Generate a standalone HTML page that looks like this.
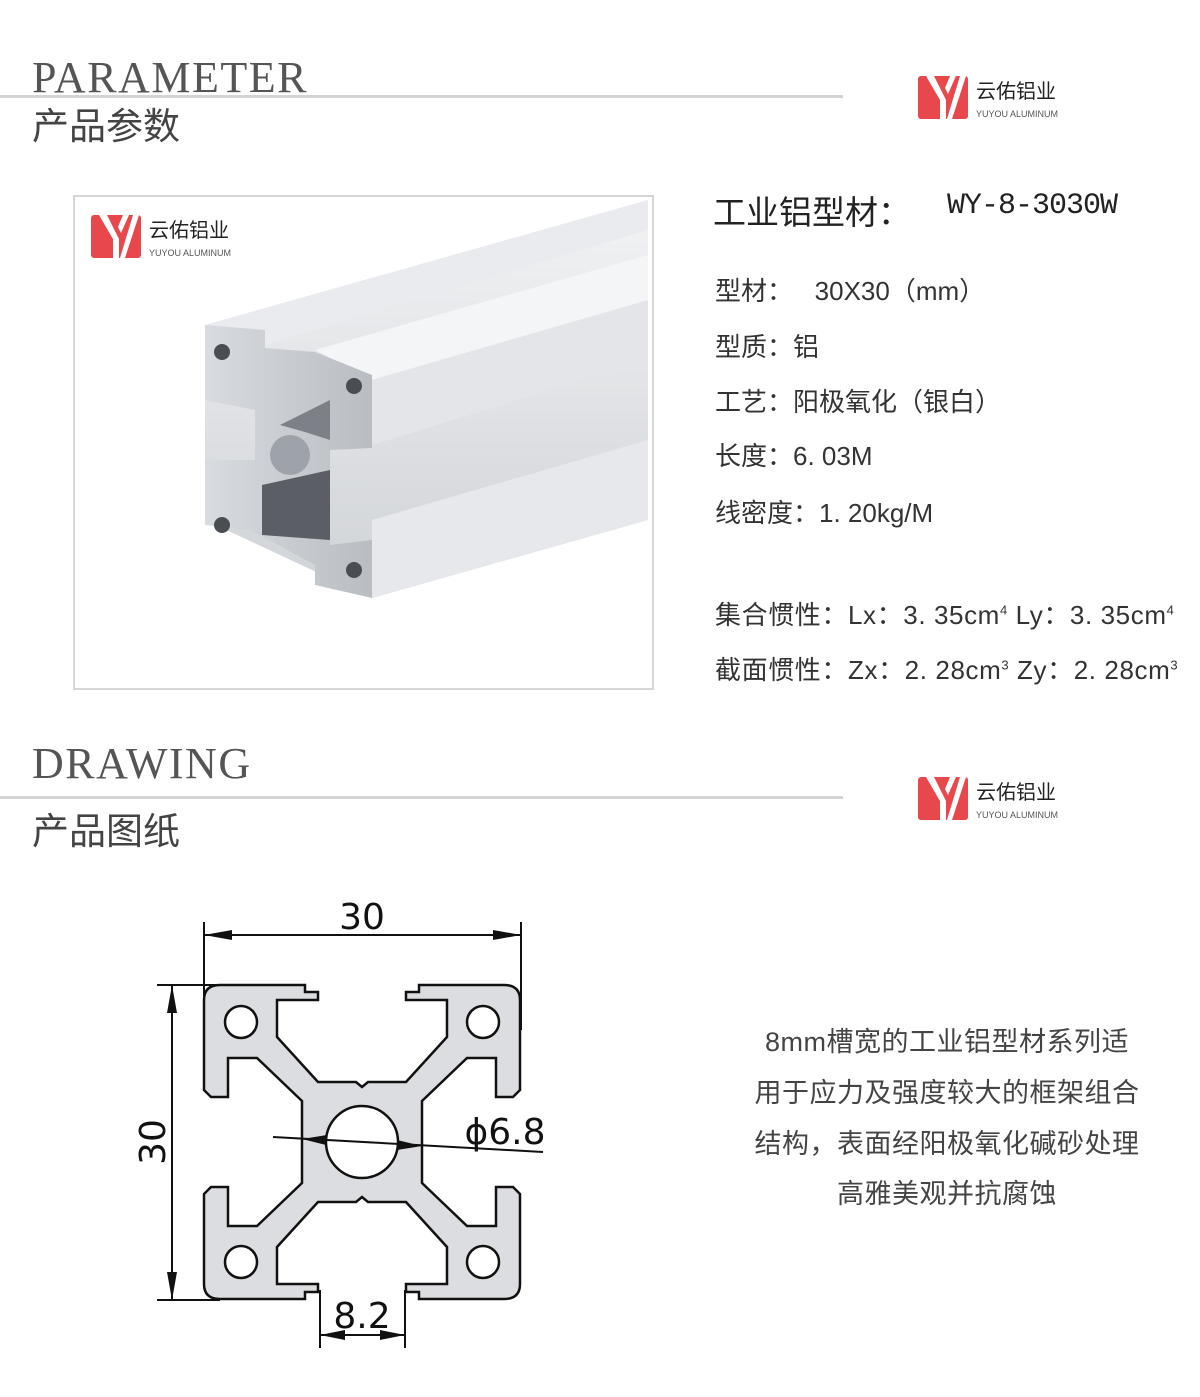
<!DOCTYPE html>
<html><head><meta charset="utf-8"><style>
body{margin:0;width:1200px;height:1397px;background:#fff;position:relative;overflow:hidden;font-family:"Liberation Sans","Noto Sans CJK SC",sans-serif;color:#333}
.a{position:absolute;white-space:nowrap}
.en{font-family:"Liberation Serif",serif;font-size:44px;color:#555;letter-spacing:1.5px}
.cn{font-size:37px;color:#444}
.line{position:absolute;left:0;width:843px;height:3px;background:#d4d4d4}
.spec{font-size:26px;color:#333;left:715px}
.p{font-size:27px;color:#444;width:420px;text-align:center;left:737px;letter-spacing:0.5px}
</style></head><body>
<div class="a en" style="left:32px;top:52px">PARAMETER</div>
<div class="line" style="top:95px"></div>
<div class="a cn" style="left:32px;top:96px">产品参数</div>

<div class="a en" style="left:32px;top:738px">DRAWING</div>
<div class="line" style="top:796px"></div>
<div class="a cn" style="left:32px;top:801px">产品图纸</div>

<!-- logos -->
<svg class="a" style="left:916px;top:74px" width="160" height="48">
<rect x="2" y="2" width="50" height="43" rx="3" fill="#e8474b"/>
<path d="M10 2 L24 26 L24 45 L30 45 L30 26 L18 2Z M34 2 L40 2 L32 20 L29 14Z M44 2 L50 2 L36 45 L31 45Z" fill="#fff"/>
<text x="60" y="24" font-size="20" fill="#222" font-family="Noto Sans CJK SC,sans-serif">云佑铝业</text>
<text x="60" y="43" font-size="9" fill="#555" font-family="Liberation Sans,sans-serif">YUYOU ALUMINUM</text>
</svg>
<svg class="a" style="left:916px;top:775px" width="160" height="48">
<rect x="2" y="2" width="50" height="43" rx="3" fill="#e8474b"/>
<path d="M10 2 L24 26 L24 45 L30 45 L30 26 L18 2Z M34 2 L40 2 L32 20 L29 14Z M44 2 L50 2 L36 45 L31 45Z" fill="#fff"/>
<text x="60" y="24" font-size="20" fill="#222" font-family="Noto Sans CJK SC,sans-serif">云佑铝业</text>
<text x="60" y="43" font-size="9" fill="#555" font-family="Liberation Sans,sans-serif">YUYOU ALUMINUM</text>
</svg>

<!-- photo box -->
<div class="a" style="left:73px;top:195px;width:577px;height:491px;border:2px solid #d6d6d6"></div>
<svg class="a" style="left:89px;top:213px" width="160" height="48">
<rect x="2" y="2" width="50" height="43" rx="3" fill="#e8474b"/>
<path d="M10 2 L24 26 L24 45 L30 45 L30 26 L18 2Z M34 2 L40 2 L32 20 L29 14Z M44 2 L50 2 L36 45 L31 45Z" fill="#fff"/>
<text x="60" y="24" font-size="20" fill="#222" font-family="Noto Sans CJK SC,sans-serif">云佑铝业</text>
<text x="60" y="43" font-size="9" fill="#555" font-family="Liberation Sans,sans-serif">YUYOU ALUMINUM</text>
</svg>
<svg class="a" style="left:0;top:0" width="700" height="700">
<defs><linearGradient id="g" x1="0" y1="0" x2="0" y2="1"><stop offset="0" stop-color="#f2f3f5"/><stop offset="1" stop-color="#cfd2d6"/></linearGradient>
<linearGradient id="g2" x1="0" y1="0" x2="1" y2="0"><stop offset="0" stop-color="#d8dbdf"/><stop offset="1" stop-color="#b9bdc2"/></linearGradient></defs>
<path d="M205 325 L648 200 L648 520 L372 598 L205 520Z" fill="url(#g)"/>
<path d="M205 325 L648 200 L648 230 L265 345 L205 345Z" fill="#e9ebee"/>
<path d="M315 350 L648 255 L648 300 L372 380 Z" fill="#f4f5f6"/>
<path d="M372 380 L648 300 L648 360 L372 445Z" fill="#e3e5e8"/>
<path d="M372 520 L648 440 L648 520 L372 598Z" fill="#e6e8eb"/>
<path d="M205 325 L265 330 L265 348 L315 352 L372 375 L372 448 L330 450 L330 545 L372 540 L372 598 L315 585 L315 565 L250 530 L205 525 L205 460 L255 460 L255 410 L205 400Z" fill="url(#g2)"/>
<circle cx="290" cy="455" r="20" fill="#9ea3a9"/>
<circle cx="222" cy="352" r="8" fill="#4a4d52"/><circle cx="354" cy="386" r="8" fill="#4a4d52"/>
<circle cx="222" cy="525" r="8" fill="#4a4d52"/><circle cx="354" cy="570" r="8" fill="#4a4d52"/>
<path d="M262 485 L330 470 L330 540 L262 535Z" fill="#5b5f65"/>
<path d="M280 425 L330 400 L330 440 L305 432Z" fill="#7d8187"/>
</svg>

<!-- specs -->
<div class="a" style="left:713px;top:186px;font-size:33px;color:#222">工业铝型材：</div>
<div class="a" style="left:947px;top:189px;font-family:'Liberation Mono',monospace;font-size:30px;color:#222;letter-spacing:-1px">WY-8-3030W</div>
<div class="a spec" style="top:271px">型材：&nbsp;&nbsp;&nbsp;30X30（mm）</div>
<div class="a spec" style="top:327px">型质：铝</div>
<div class="a spec" style="top:382px">工艺：阳极氧化（银白）</div>
<div class="a spec" style="top:436px">长度：6. 03M</div>
<div class="a spec" style="top:493px">线密度：1. 20kg/M</div>
<div class="a spec" style="top:595px;letter-spacing:0.6px">集合惯性：Lx：3. 35cm<sup style="font-size:13px">4</sup>&nbsp;Ly：3. 35cm<sup style="font-size:13px">4</sup></div>
<div class="a spec" style="top:650px;letter-spacing:0.6px">截面惯性：Zx：2. 28cm<sup style="font-size:13px">3</sup>&nbsp;Zy：2. 28cm<sup style="font-size:13px">3</sup></div>

<div class="a p" style="top:1020px">8mm槽宽的工业铝型材系列适</div>
<div class="a p" style="top:1071px">用于应力及强度较大的框架组合</div>
<div class="a p" style="top:1122px">结构，表面经阳极氧化碱砂处理</div>
<div class="a p" style="top:1172px">高雅美观并抗腐蚀</div>

<!-- drawing -->
<svg class="a" style="left:0;top:0" width="1200" height="1397">
<g transform="translate(362,1142)" stroke="#111" stroke-width="2.5" fill="#dcdde0">
<path d="M-60 0 L-60 -41 L-105 -84 L-134 -84 L-134 -45 L-151 -45 L-158 -52 L-158 -142 Q-158 -157 -142 -157 L-57 -157 L-57 -150 L-44 -150 L-44 -142 L-85 -142 L-85 -105 L-44 -60 L-6 -60 L0 -55 L6 -60 L44 -60 L85 -105 L85 -142 L44 -142 L44 -150 L57 -150 L57 -157 L142 -157 Q158 -157 158 -142 L158 -52 L151 -45 L134 -45 L134 -84 L105 -84 L60 -41 L60 0
L60 41 L105 84 L134 84 L134 45 L151 45 L158 52 L158 142 Q158 157 142 157 L57 157 L57 150 L44 150 L44 142 L85 142 L85 105 L44 60 L6 60 L0 55 L-6 60 L-44 60 L-85 105 L-85 142 L-44 142 L-44 150 L-57 150 L-57 157 L-142 157 Q-158 157 -158 142 L-158 52 L-151 45 L-134 45 L-134 84 L-105 84 L-60 41 Z"/>
<g fill="#fff"><circle cx="0" cy="0" r="36"/><circle cx="-121" cy="-120" r="16"/><circle cx="121" cy="-120" r="16"/><circle cx="-121" cy="120" r="16"/><circle cx="121" cy="120" r="16"/></g>
</g>
<g stroke="#111" stroke-width="2" fill="none">
<line x1="204" y1="922" x2="204" y2="1005"/><line x1="521" y1="922" x2="521" y2="1030"/>
<line x1="204" y1="935" x2="521" y2="935"/>
<line x1="157" y1="985" x2="220" y2="985"/><line x1="157" y1="1300" x2="220" y2="1300"/>
<line x1="172" y1="985" x2="172" y2="1300"/>
<line x1="320" y1="1290" x2="320" y2="1348"/><line x1="405" y1="1290" x2="405" y2="1348"/>
<line x1="320" y1="1335" x2="405" y2="1335"/>
<line x1="273" y1="1137" x2="543" y2="1152"/>
</g>
<g fill="#111">
<path d="M204 935 L232 930 L232 940Z"/><path d="M521 935 L493 930 L493 940Z"/>
<path d="M172 985 L167 1013 L177 1013Z"/><path d="M172 1300 L167 1272 L177 1272Z"/>
<path d="M320 1335 L345 1330 L345 1340Z"/><path d="M405 1335 L380 1330 L380 1340Z"/>
<path d="M302 1139 L327 1135 L326 1145Z"/><path d="M422 1146 L397 1140 L397 1150Z"/>
</g>
<g font-family="DejaVu Sans,sans-serif" font-size="36" fill="#111" text-anchor="middle">
<text x="362" y="929">30</text>
<text x="362" y="1328">8.2</text>
<text x="505" y="1144">ɸ6.8</text>
<text transform="translate(165,1142) rotate(-90)">30</text>
</g>
</svg>
</body></html>
